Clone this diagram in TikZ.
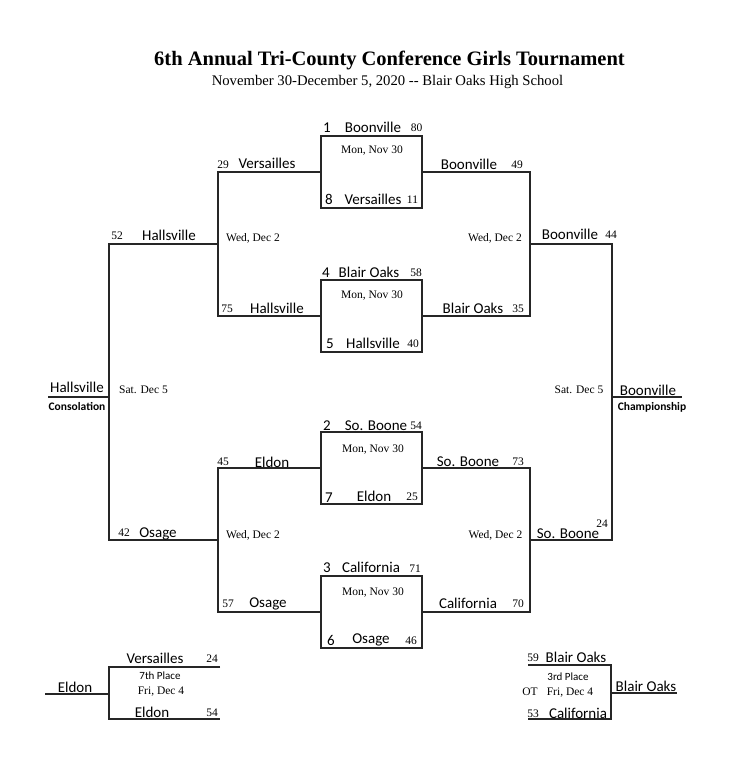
\documentclass[tikz,border=0pt]{standalone}
\usepackage{fontspec}
\setmainfont{Liberation Serif}
\newfontfamily\calfont{Carlito}
\begin{document}
\begin{tikzpicture}[x=1pt,y=-1pt,
  br/.style={draw=black!85,line width=1.2pt},
  box/.style={draw=black!85,line width=1.2pt,minimum width=101pt,minimum height=72pt,inner sep=0pt},
  team/.style={font=\calfont\fontsize{15}{15}\selectfont,anchor=base,inner sep=0pt},
  num/.style={font=\fontsize{11.5}{11.5}\selectfont,anchor=base,inner sep=0pt},
  date/.style={font=\fontsize{11.5}{11.5}\selectfont,anchor=base,inner sep=0pt},
  lbl/.style={font=\calfont\bfseries\fontsize{11.5}{11.5}\selectfont,anchor=base,inner sep=0pt},
  small/.style={font=\calfont\fontsize{11}{11}\selectfont,anchor=base,inner sep=0pt}]
\useasboundingbox[fill=white] (0,0) rectangle (730,764);
% title
\node[anchor=base,inner sep=0pt,font=\bfseries\fontsize{20.5}{20.5}\selectfont] (title) at (389.5,65) {6th Annual Tri-County Conference Girls Tournament};
\node[anchor=base,inner sep=0pt,font=\fontsize{14.7}{14.7}\selectfont] (sub) at (387.5,85) {November 30-December 5, 2020 -{}- Blair Oaks High School};
% boxes
\node[box] (b1) at (371.5,172) {};
\node[box] (b2) at (371.5,316) {};
\node[box] (b3) at (371.5,468) {};
\node[box] (b4) at (371.5,612) {};
% coordinates
\coordinate (lu1) at (218,172); \coordinate (lu2) at (218,316); \coordinate (luj) at (218,244);
\coordinate (ll1) at (218,468); \coordinate (ll2) at (218,612); \coordinate (llj) at (218,540);
\coordinate (ru1) at (530,172); \coordinate (ru2) at (530,316); \coordinate (ruj) at (530,244);
\coordinate (rl1) at (530,468); \coordinate (rl2) at (530,612); \coordinate (rlj) at (530,540);
\coordinate (lf1) at (109,244); \coordinate (lf2) at (109,540); \coordinate (lfj) at (109,397); \coordinate (lw) at (48,397);
\coordinate (rf1) at (612,244); \coordinate (rf2) at (612,540); \coordinate (rfj) at (612,397); \coordinate (rw) at (682,397);
% brackets
\draw[br] (b1.west) -- (lu1) -- (lu2) -- (b2.west);
\draw[br] (b3.west) -- (ll1) -- (ll2) -- (b4.west);
\draw[br] (b1.east) -- (ru1) -- (ru2) -- (b2.east);
\draw[br] (b3.east) -- (rl1) -- (rl2) -- (b4.east);
\draw[br] (luj) -- (lf1) -- (lf2) -- (llj);
\draw[br] (ruj) -- (rf1) -- (rf2) -- (rlj);
\draw[br] (lw) -- (lfj);
\draw[br] (rfj) -- (rw);
% 7th place
\coordinate (s1) at (220,667); \coordinate (s1c) at (109,667);
\coordinate (s2) at (220,719); \coordinate (s2c) at (109,719);
\coordinate (sj) at (109,694); \coordinate (sw) at (45,694);
\draw[br] (s1) -- (s1c) -- (s2c) -- (s2);
\draw[br] (sw) -- (sj);
% 3rd place
\coordinate (t1) at (528,665); \coordinate (t1c) at (611,665);
\coordinate (t2) at (528,719); \coordinate (t2c) at (611,719);
\coordinate (tj) at (611,693); \coordinate (tw) at (677,693);
\draw[br] (t1) -- (t1c) -- (t2c) -- (t2);
\draw[br] (tj) -- (tw);
% box 1
\node[team] (s1a) at (327,132) {1}; \node[team] (n1a) at (373,132) {Boonville}; \node[num] (p1a) at (416.5,131) {80};
\node[date] (d1) at (372,153) {Mon, Nov 30};
\node[team] (s1b) at (329,204) {8}; \node[team] (n1b) at (373,204) {Versailles}; \node[num] (p1b) at (412.5,203) {11};
% box 2
\node[team] (s2a) at (326,277) {4}; \node[team] (n2a) at (369,277) {Blair Oaks}; \node[num] (p2a) at (416,276) {58};
\node[date] (d2) at (372,298) {Mon, Nov 30};
\node[team] (s2b) at (330,348) {5}; \node[team] (n2b) at (373,348) {Hallsville}; \node[num] (p2b) at (413,347) {40};
% box 3
\node[team] (s3a) at (327,430) {2}; \node[team] (n3a) at (376,430) {So. Boone}; \node[num] (p3a) at (416,429) {54};
\node[date] (d3) at (373,452) {Mon, Nov 30};
\node[team] (s3b) at (329,502) {7}; \node[team] (n3b) at (374,501) {Eldon}; \node[num] (p3b) at (412,500) {25};
% box 4
\node[team] (s4a) at (327,572) {3}; \node[team] (n4a) at (371,572) {California}; \node[num] (p4a) at (415,572) {71};
\node[date] (d4) at (373,595) {Mon, Nov 30};
\node[team] (s4b) at (331,645) {6}; \node[team] (n4b) at (371,643) {Osage}; \node[num] (p4b) at (411,644) {46};
% second round left
\node[num] (q1) at (223,168) {29}; \node[team] (m1) at (267,168) {Versailles};
\node[num] (q2) at (227,312) {75}; \node[team] (m2) at (277,313) {Hallsville};
\node[num] (q3) at (223,465) {45}; \node[team] (m3) at (272,467) {Eldon};
\node[num] (q4) at (228,607) {57}; \node[team] (m4) at (268,607) {Osage};
% second round right
\node[team] (m5) at (469,169) {Boonville}; \node[num] (q5) at (517,168) {49};
\node[team] (m6) at (473,313) {Blair Oaks}; \node[num] (q6) at (518,312) {35};
\node[team] (m7) at (468,466) {So. Boone}; \node[num] (q7) at (518,465) {73};
\node[team] (m8) at (468,608) {California}; \node[num] (q8) at (518,607) {70};
% dates round 2
\node[date] (w1) at (253,241) {Wed, Dec 2};
\node[date] (w2) at (495,241) {Wed, Dec 2};
\node[date] (w3) at (253,538) {Wed, Dec 2};
\node[date] (w4) at (495.5,538) {Wed, Dec 2};
% third round
\node[num] (r1) at (117,239) {52}; \node[team] (k1) at (169,240) {Hallsville};
\node[num] (r2) at (124,536) {42}; \node[team] (k2) at (158,537) {Osage};
\node[team] (k3) at (570,239) {Boonville}; \node[num] (r3) at (611,238) {44};
\node[team] (k4) at (568,538) {So. Boone}; \node[num] (r4) at (602,527) {24};
\node[date] (sat1) at (143.5,393) {Sat. Dec 5};
\node[date] (sat2) at (579,393) {Sat. Dec 5};
% finals
\node[team] (cw) at (77,392) {Hallsville}; \node[lbl] (cl) at (77,410) {Consolation};
\node[team] (fw) at (648,395) {Boonville}; \node[lbl] (fl) at (652,410) {Championship};
% 7th place texts
\node[team] (v1) at (155,663) {Versailles}; \node[num] (v1s) at (212,662) {24};
\node[small] (v7) at (160,679) {7th Place};
\node[date] (vd) at (161,694) {Fri, Dec 4};
\node[team] (v2) at (152,717) {Eldon}; \node[num] (v2s) at (212,716) {54};
\node[team] (vw) at (75,692) {Eldon};
% 3rd place texts
\node[num] (u1s) at (533,661) {59}; \node[team] (u1) at (576,662) {Blair Oaks};
\node[small] (u3) at (568,680) {3rd Place};
\node[date] (uot) at (530,695) {OT};
\node[date] (ud) at (570,695) {Fri, Dec 4};
\node[num] (u2s) at (533,717) {53}; \node[team] (u2) at (578,718) {California};
\node[team] (uw) at (646,691) {Blair Oaks};
\end{tikzpicture}
\end{document}
